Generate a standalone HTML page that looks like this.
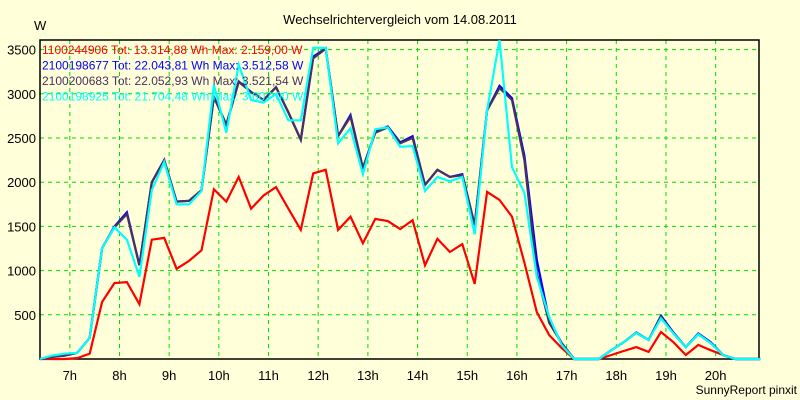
<!DOCTYPE html>
<html><head><meta charset="utf-8"><style>
body{margin:0;background:#ffffd9;}
svg{display:block;font-family:"Liberation Sans",sans-serif;}
</style></head><body>
<svg id="c" width="800" height="400">
<rect x="0" y="0" width="800" height="400" fill="#ffffd9"/>
<text x="400" y="24" font-size="13" text-anchor="middle">Wechselrichtervergleich vom 14.08.2011</text>
<text x="34" y="30" font-size="13">W</text>
<g id="grid"></g><g id="series"></g><g id="legend"></g>
<text x="797" y="394" font-size="12" text-anchor="end">SunnyReport pinxit</text>
</svg>
<script>
const yTicks=[500,1000,1500,2000,2500,3000,3500];
const xTicks=[7,8,9,10,11,12,13,14,15,16,17,18,19,20];
const xTickLabels=["7h","8h","9h","10h","11h","12h","13h","14h","15h","16h","17h","18h","19h","20h"];
const startHour=6.4, stepHour=0.25;
const redVals=[0,0,0,10,60,645,860,870,620,1350,1370,1020,1110,1230,1920,1780,2060,1700,1850,1945,1700,1460,2100,2140,1460,1610,1310,1585,1560,1470,1570,1060,1360,1210,1300,850,1890,1800,1610,1090,530,270,125,0,0,0,45,90,135,80,305,190,45,160,100,45,0,0,0];
const darkVals=[0,25,40,70,240,1255,1490,1640,1060,2000,2250,1780,1790,1910,2965,2650,3135,3020,2930,3075,2790,2480,3400,3510,2520,2740,2160,2560,2620,2440,2500,1970,2140,2060,2080,1515,2815,3065,2930,2250,970,410,180,0,0,0,100,190,295,215,480,290,135,280,180,45,0,0,0];
const blueVals=[0,25,40,70,240,1255,1500,1660,1060,2000,2250,1780,1790,1910,2965,2650,3140,3020,2930,3075,2790,2480,3420,3512,2520,2760,2160,2570,2630,2450,2520,1970,2140,2060,2090,1515,2815,3090,2950,2300,1120,440,180,0,0,0,100,190,300,215,490,300,135,290,190,45,0,0,0];
const cyanVals=[0,40,60,70,240,1255,1490,1350,930,1910,2230,1750,1750,1900,3100,2560,3330,2930,2900,3000,2700,2700,3520,3520,2440,2610,2090,2600,2620,2400,2410,1900,2060,2010,2060,1410,2815,3607,2170,1880,930,475,160,0,0,0,100,190,295,215,460,290,135,280,180,45,0,0,0];
const legendTexts=["1100244906 Tot: 13.314,88 Wh Max: 2.159,00 W","2100198677 Tot: 22.043,81 Wh Max: 3.512,58 W","2100200683 Tot: 22.052,93 Wh Max: 3.521,54 W","2100198925 Tot: 21.704,48 Wh Max: 3.607,00 W"];
const L=40,R=759,T=40,B=359;
const pxPerW=0.0884, pxPerH=49.68;
const X=h=>L+(h-startHour)*pxPerH;
const Y=v=>B-v*pxPerW;
const ns="http://www.w3.org/2000/svg";
function mk(t,a,p){const e=document.createElementNS(ns,t);for(const k in a)e.setAttribute(k,a[k]);p.appendChild(e);return e;}
const g=document.getElementById('grid');
yTicks.forEach(v=>{
 const l=mk('line',{x1:L,x2:R,y1:Y(v),y2:Y(v),stroke:'#00dd00','stroke-dasharray':'4,4'},g);
 
 
 const t=mk('text',{x:36,y:Y(v)+5,'font-size':13,'text-anchor':'end'},g);t.textContent=v;
 
 
});
xTicks.forEach((h,i)=>{
 const l=mk('line',{x1:X(h),x2:X(h),y1:T,y2:B,stroke:'#00dd00','stroke-dasharray':'4,4'},g);
 
 
 const t=mk('text',{x:X(h),y:380,'font-size':13,'text-anchor':'middle'},g);t.textContent=xTickLabels[i];
 
 
});
const fr=mk('rect',{x:L,y:T,width:R-L,height:B-T,fill:'none',stroke:'#000','stroke-width':1.5},g);


const s=document.getElementById('series');
const series=[[redVals,'#ff0000','series-1100244906'],[blueVals,'#0000ff','series-2100198677'],[darkVals,'#4a3060','series-2100200683'],[cyanVals,'#00ffff','series-2100198925']];
series.forEach(([vals,col,name])=>{
 const pts=vals.map((v,i)=>X(startHour+i*stepHour).toFixed(1)+','+Y(v).toFixed(1)).join(' ');
 const p=mk('polyline',{points:pts,fill:'none',stroke:col,'stroke-width':2.2,'stroke-linejoin':'miter'},s);
 
 
});
const lg=document.getElementById('legend');
const lcols=['#ff0000','#0000ff','#4a3060','#00ffff'];
legendTexts.forEach((txt,i)=>{
 const t=mk('text',{x:42,y:54+i*15.5,'font-size':12,fill:lcols[i]},lg);t.textContent=txt;
 
 
});
</script>
</body></html>
